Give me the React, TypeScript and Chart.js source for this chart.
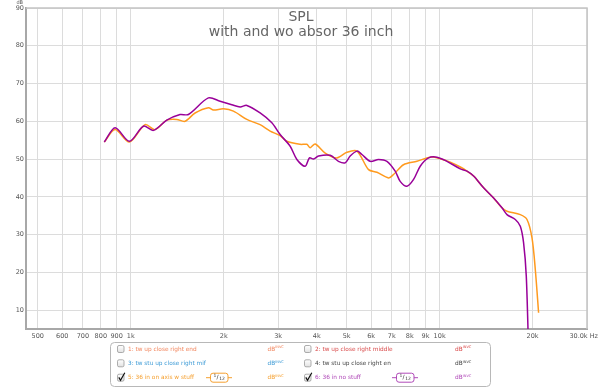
import React, { useEffect, useRef } from "react";
import { Chart, registerables } from "chart.js";

Chart.register(...registerables);

const xTickValues = [500, 600, 700, 800, 900, 1000, 2000, 3000, 4000, 5000, 6000, 7000, 8000, 9000, 10000, 20000, 30000];
const xTickLabels = ["500", "600", "700", "800", "900", "1k", "2k", "3k", "4k", "5k", "6k", "7k", "8k", "9k", "10k", "20k", "30.0k Hz"];
const yTickValues = [10, 20, 30, 40, 50, 60, 70, 80, 90];

const freqOrange = [821, 890, 990, 1113, 1199, 1308, 1409, 1499, 1615, 1784, 1852, 1995, 2150, 2376, 2623, 2827, 3045, 3201, 3536, 3717, 3810, 3955, 4261, 4649, 5010, 5400, 5887, 6267, 6833, 7091, 7639, 8444, 9325, 10047, 10826, 11665, 12262, 12880, 13877, 14954, 15916, 16520, 18247, 19180, 19909, 20408, 20913];
const dbOrange = [54.5, 57.8, 54.5, 59.1, 57.8, 60.3, 60.5, 60.0, 62.2, 63.6, 63.0, 63.3, 62.7, 60.5, 59.1, 57.4, 56.2, 54.7, 53.9, 53.9, 53.0, 54.0, 51.6, 50.3, 51.8, 52.1, 47.2, 46.5, 45.0, 45.9, 48.5, 49.4, 50.5, 50.1, 49.2, 47.9, 46.8, 45.5, 42.4, 39.7, 37.1, 36.2, 35.3, 34.0, 29.1, 20.7, 9.3];

const freqPurple = [821, 890, 990, 1099, 1184, 1308, 1444, 1537, 1784, 1947, 2124, 2260, 2376, 2623, 2863, 3045, 3282, 3450, 3670, 3790, 3905, 4054, 4422, 4704, 4946, 5134, 5400, 5604, 5962, 6342, 6752, 7180, 7452, 7836, 8235, 8653, 9206, 9801, 10563, 11665, 12262, 12880, 13877, 14954, 15916, 16520, 17578, 18247, 18700, 19078, 19400];
const dbPurple = [54.5, 58.3, 54.7, 58.7, 57.6, 60.3, 61.8, 61.8, 66.2, 65.3, 64.4, 63.8, 64.2, 62.2, 59.6, 56.5, 53.4, 49.9, 48.1, 50.3, 50.0, 50.8, 51.0, 49.4, 49.0, 50.8, 52.1, 51.2, 49.4, 49.9, 49.4, 46.8, 44.1, 42.8, 44.6, 48.1, 50.3, 50.5, 49.4, 47.4, 46.8, 45.5, 42.4, 39.7, 37.1, 35.3, 34.0, 32.2, 27.8, 19.0, 0];

const titleLines = ["SPL", "with and wo absor 36 inch"];

const legendItems = [
  { label: "1: tw up close right end", color: "#f2865e", col: 0, row: 0, checked: false, smooth: false },
  { label: "2: tw up close right middle", color: "#d94a4a", col: 1, row: 0, checked: false, smooth: false },
  { label: "3: tw stu up close right mif", color: "#3d9bd6", col: 0, row: 1, checked: false, smooth: false },
  { label: "4: tw stu up close right en", color: "#444444", col: 1, row: 1, checked: false, smooth: false },
  { label: "5: 36 in on axis w stuff", color: "#f5a030", col: 0, row: 2, checked: true, smooth: true },
  { label: "6: 36 in no stuff", color: "#b04ab8", col: 1, row: 2, checked: true, smooth: true },
];

const FONT = '"DejaVu Sans", sans-serif';

function rr(ctx: CanvasRenderingContext2D, x: number, y: number, w: number, h: number, r: number) {
  ctx.beginPath();
  ctx.moveTo(x + r, y);
  ctx.lineTo(x + w - r, y);
  ctx.quadraticCurveTo(x + w, y, x + w, y + r);
  ctx.lineTo(x + w, y + h - r);
  ctx.quadraticCurveTo(x + w, y + h, x + w - r, y + h);
  ctx.lineTo(x + r, y + h);
  ctx.quadraticCurveTo(x, y + h, x, y + h - r);
  ctx.lineTo(x, y + r);
  ctx.quadraticCurveTo(x, y, x + r, y);
  ctx.closePath();
}

const decorPlugin = {
  id: "decor",
  afterDraw(chart: any) {
    const ctx: CanvasRenderingContext2D = chart.ctx;
    const a = chart.chartArea;
    ctx.save();
    // top & right border
    ctx.strokeStyle = "#c4c4c4";
    ctx.lineWidth = 1.5;
    ctx.beginPath();
    ctx.moveTo(a.left, a.top);
    ctx.lineTo(a.right, a.top);
    ctx.lineTo(a.right, a.bottom);
    ctx.stroke();

    // last x label (right aligned at edge, like the reference)
    ctx.fillStyle = "#555";
    ctx.font = `6.5px ${FONT}`;
    ctx.textAlign = "right";
    ctx.textBaseline = "top";
    ctx.fillText(xTickLabels[xTickLabels.length - 1], 598, a.bottom + 4);

    // title
    const cx = 301;
    ctx.fillStyle = "#666";
    ctx.textAlign = "center";
    ctx.textBaseline = "middle";
    ctx.font = `14px ${FONT}`;
    ctx.fillText(titleLines[0], cx, 17);
    ctx.fillText(titleLines[1], cx, 32);

    // dB label
    ctx.fillStyle = "#555";
    ctx.font = `5px ${FONT}`;
    ctx.textAlign = "right";
    ctx.fillText("dB", 23, 3);

    // legend box
    ctx.strokeStyle = "#b8b8b8";
    ctx.lineWidth = 1;
    rr(ctx, 110.5, 342.5, 380, 44, 4);
    ctx.fillStyle = "#fff";
    ctx.fill();
    ctx.stroke();

    const colBox = [117, 304];
    const colText = [128, 315];
    const colDb = [267.5, 455];
    const colSmooth = [210, 396];
    const rowY = [349, 363.3, 377.7];
    legendItems.forEach((it) => {
      const y = rowY[it.row];
      const bx = colBox[it.col];
      const g = ctx.createLinearGradient(0, y - 3.5, 0, y + 3.5);
      g.addColorStop(0, "#ffffff");
      g.addColorStop(1, "#e2e2e2");
      rr(ctx, bx + 0.5, y - 3.5, 6.5, 7, 1.5);
      ctx.fillStyle = g;
      ctx.fill();
      ctx.strokeStyle = "#999";
      ctx.lineWidth = 0.8;
      ctx.stroke();
      if (it.checked) {
        ctx.strokeStyle = "#111";
        ctx.lineWidth = 1.2;
        ctx.beginPath();
        ctx.moveTo(bx + 1.8, y - 0.3);
        ctx.lineTo(bx + 3.5, y + 2.5);
        ctx.lineTo(bx + 7.8, y - 5);
        ctx.stroke();
      }
      ctx.fillStyle = it.color;
      ctx.textAlign = "left";
      ctx.textBaseline = "middle";
      ctx.font = `5.8px ${FONT}`;
      ctx.fillText(it.label, colText[it.col], y);
      const dx = colDb[it.col];
      ctx.fillText("dB", dx, y);
      const w = ctx.measureText("dB").width;
      ctx.font = `3.6px ${FONT}`;
      ctx.fillText("INVC", dx + w, y - 1.5);
      if (it.smooth) {
        const sx = colSmooth[it.col];
        ctx.strokeStyle = it.color;
        ctx.lineWidth = 1;
        ctx.beginPath();
        ctx.moveTo(sx - 4, y);
        ctx.lineTo(sx, y);
        ctx.moveTo(sx + 18, y);
        ctx.lineTo(sx + 22, y);
        ctx.stroke();
        rr(ctx, sx + 0.5, y - 4.5, 17.5, 9, 2.5);
        ctx.stroke();
        ctx.fillStyle = "#333";
        ctx.font = `4.5px ${FONT}`;
        ctx.textAlign = "center";
        ctx.fillText("1", sx + 5, y - 1.5);
        ctx.font = `6px ${FONT}`;
        ctx.fillText("/", sx + 7.5, y);
        ctx.font = `4.5px ${FONT}`;
        ctx.fillText("12", sx + 12, y + 1.5);
      }
    });
    ctx.restore();
  },
};

export default function App() {
  const ref = useRef<HTMLCanvasElement | null>(null);
  useEffect(() => {
    document.body.style.margin = "0";
    const canvas = ref.current;
    if (!canvas) return;
    const chart = new Chart(canvas, {
      type: "line",
      data: {
        datasets: [
          {
            label: "6: 36 in no stuff",
            data: freqPurple.map((f, i) => ({ x: f, y: dbPurple[i] })),
            borderColor: "#990099",
            borderWidth: 1.5,
            pointRadius: 0,
            tension: 0.3,
            fill: false,
            order: 0,
          },
          {
            label: "5: 36 in on axis w stuff",
            data: freqOrange.map((f, i) => ({ x: f, y: dbOrange[i] })),
            borderColor: "#ff9a1e",
            borderWidth: 1.5,
            pointRadius: 0,
            tension: 0.3,
            fill: false,
            order: 1,
          },
        ],
      },
      options: {
        animation: false,
        responsive: false,
        maintainAspectRatio: false,
        layout: { padding: { left: 0, right: 13, top: 8, bottom: 0 } },
        plugins: { legend: { display: false }, tooltip: { enabled: false }, title: { display: false } },
        scales: {
          x: {
            type: "logarithmic",
            min: 458,
            max: 30000,
            afterBuildTicks: (s: any) => {
              s.ticks = xTickValues.map((v) => ({ value: v }));
            },
            afterFit: (s: any) => {
              s.height = 58;
              s.paddingLeft = 0;
              s.paddingRight = 0;
            },
            ticks: {
              autoSkip: false,
              maxRotation: 0,
              minRotation: 0,
              padding: 3,
              color: "#555",
              font: { family: FONT, size: 6.5 },
              callback: (_v: any, i: number) => (i === xTickLabels.length - 1 ? "" : xTickLabels[i]),
            },
            grid: { color: "#dcdcdc", lineWidth: 1, drawTicks: false, tickLength: 0 },
            border: { color: "#a8a8a8", width: 2 },
          },
          y: {
            type: "linear",
            min: 5,
            max: 90,
            afterBuildTicks: (s: any) => {
              s.ticks = yTickValues.map((v) => ({ value: v }));
            },
            afterFit: (s: any) => {
              s.width = 26;
              s.paddingTop = 0;
              s.paddingBottom = 0;
            },
            ticks: {
              padding: 2,
              color: "#555",
              font: { family: FONT, size: 6.5 },
              callback: (v: any) => String(v),
            },
            grid: { color: "#dcdcdc", lineWidth: 1, drawTicks: false, tickLength: 0 },
            border: { color: "#a8a8a8", width: 2 },
          },
        },
      } as any,
      plugins: [decorPlugin],
    });
    return () => chart.destroy();
  }, []);
  return <canvas ref={ref} width={600} height={387} style={{ display: "block" }} />;
}
